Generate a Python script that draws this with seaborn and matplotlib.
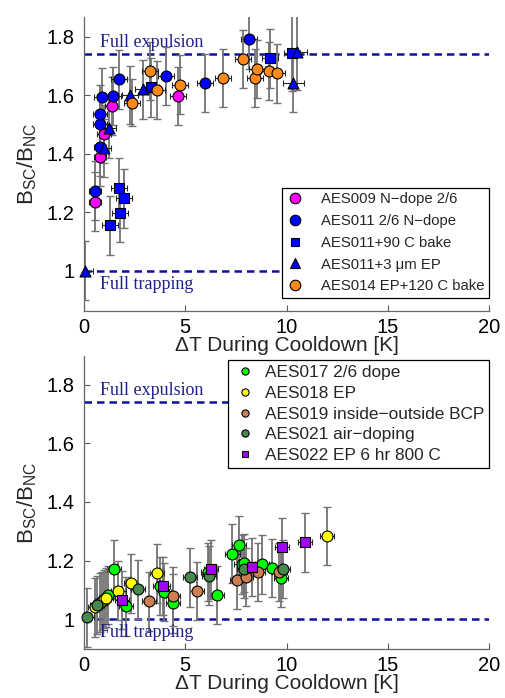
import numpy as np
import pandas as pd
import matplotlib
matplotlib.use("Agg")
import matplotlib.pyplot as plt
from matplotlib.lines import Line2D
import seaborn as sns

# ---------------- data: upper panel ----------------
aes009_x = [0.53, 0.79, 0.99, 1.37, 4.66]
aes009_y = [1.236, 1.390, 1.467, 1.563, 1.597]
aes009_xerr = [0.30, 0.30, 0.35, 0.35, 0.40]
aes009_yerr = [0.10, 0.10, 0.10, 0.10, 0.10]

aes011_x = [0.56, 0.79, 0.79, 0.79, 0.89, 1.45, 1.74, 4.06, 5.98, 8.16]
aes011_y = [1.274, 1.424, 1.502, 1.536, 1.593, 1.597, 1.654, 1.665, 1.641, 1.791]
aes011_xerr = [0.30, 0.30, 0.35, 0.35, 0.40, 0.40, 0.40, 0.40, 0.40, 0.40]
aes011_yerr = [0.10, 0.10, 0.10, 0.10, 0.10, 0.10, 0.10, 0.10, 0.10, 0.10]

aes011b_x = [1.27, 1.73, 1.78, 1.99, 3.31, 9.19, 10.26]
aes011b_y = [1.155, 1.284, 1.197, 1.248, 1.627, 1.726, 1.743]
aes011b_xerr = [0.40, 0.40, 0.40, 0.40, 0.40, 0.40, 0.40]
aes011b_yerr = [0.10, 0.10, 0.10, 0.10, 0.10, 0.10, 0.13]

aes011e_x = [0.05, 0.99, 1.25, 2.27, 2.93, 10.34, 10.50]
aes011e_y = [1.001, 1.419, 1.487, 1.601, 1.620, 1.643, 1.749]
aes011e_xerr = [0.40, 0.35, 0.35, 0.40, 0.40, 0.50, 0.50]
aes011e_yerr = [0.10, 0.10, 0.10, 0.10, 0.10, 0.10, 0.13]

aes014_x = [2.39, 3.27, 3.60, 4.74, 6.85, 7.87, 8.44, 8.56, 9.12, 9.55]
aes014_y = [1.574, 1.683, 1.617, 1.636, 1.658, 1.723, 1.658, 1.689, 1.683, 1.675]
aes014_xerr = [0.40, 0.40, 0.40, 0.40, 0.40, 0.40, 0.40, 0.40, 0.40, 0.40]
aes014_yerr = [0.08, 0.10, 0.10, 0.10, 0.10, 0.10, 0.10, 0.10, 0.10, 0.10]

# ---------------- data: lower panel ----------------
aes017_x = [1.19, 1.50, 2.07, 3.75, 3.95, 4.41, 6.14, 6.55, 7.33, 7.65, 7.78, 7.90, 8.79, 9.28, 9.74]
aes017_y = [1.082, 1.170, 1.044, 1.113, 1.093, 1.054, 1.161, 1.082, 1.223, 1.253, 1.187, 1.192, 1.187, 1.175, 1.142]
aes017_xerr = [0.35] * 15
aes017_yerr = [0.10] * 15

aes018_x = [0.54, 0.79, 0.90, 1.00, 1.09, 1.70, 2.31, 3.59, 12.02]
aes018_y = [1.040, 1.056, 1.062, 1.068, 1.073, 1.097, 1.122, 1.156, 1.284]
aes018_xerr = [0.35] * 9
aes018_yerr = [0.10] * 9

aes019_x = [3.23, 4.38, 5.60, 7.57, 8.00, 8.59, 9.65]
aes019_y = [1.061, 1.078, 1.096, 1.133, 1.144, 1.161, 1.161]
aes019_xerr = [0.35] * 7
aes019_yerr = [0.10] * 7

aes021_x = [0.13, 0.63, 2.65, 5.25, 6.17, 7.90, 9.81]
aes021_y = [1.006, 1.048, 1.102, 1.143, 1.148, 1.172, 1.171]
aes021_xerr = [0.35] * 7
aes021_yerr = [0.10] * 7

aes022_x = [1.89, 3.92, 6.27, 8.30, 9.76, 10.91]
aes022_y = [1.065, 1.113, 1.170, 1.178, 1.245, 1.262]
aes022_xerr = [0.35] * 6
aes022_yerr = [0.10] * 6

full_expulsion = 1.74
full_trapping = 1.0

x_ticks = [0, 5, 10, 15, 20]
y_ticks = [1.0, 1.2, 1.4, 1.6, 1.8]
y_ticklabels = ["1", "1.2", "1.4", "1.6", "1.8"]

top_series = [
    ("AES009 N\u2212dope 2/6", aes009_x, aes009_y, aes009_xerr, aes009_yerr, "#FF00FF", "o"),
    ("AES011 2/6 N\u2212dope", aes011_x, aes011_y, aes011_xerr, aes011_yerr, "#0000FF", "o"),
    ("AES011+90 C bake", aes011b_x, aes011b_y, aes011b_xerr, aes011b_yerr, "#0000FF", "s"),
    ("AES011+3 \u03bcm EP", aes011e_x, aes011e_y, aes011e_xerr, aes011e_yerr, "#0000FF", "^"),
    ("AES014 EP+120 C bake", aes014_x, aes014_y, aes014_xerr, aes014_yerr, "#FF8A1C", "o"),
]
bottom_series = [
    ("AES017 2/6 dope", aes017_x, aes017_y, aes017_xerr, aes017_yerr, "#00FF00", "o"),
    ("AES018 EP", aes018_x, aes018_y, aes018_xerr, aes018_yerr, "#FFFF00", "o"),
    ("AES019 inside\u2212outside BCP", aes019_x, aes019_y, aes019_xerr, aes019_yerr, "#CC7F50", "o"),
    ("AES021 air\u2212doping", aes021_x, aes021_y, aes021_xerr, aes021_yerr, "#47884F", "o"),
    ("AES022 EP 6 hr 800 C", aes022_x, aes022_y, aes022_xerr, aes022_yerr, "#A400F4", "s"),
]

sns.set_style("ticks")
plt.rcParams["font.family"] = ["Liberation Sans", "DejaVu Sans"]
plt.rcParams["mathtext.fontset"] = "custom"
plt.rcParams["mathtext.rm"] = "Liberation Sans"
plt.rcParams["mathtext.it"] = "Liberation Sans"

fig = plt.figure(figsize=(5.06, 6.98), dpi=100)
W, H = 506.0, 698.0
ax_top = fig.add_axes([84 / W, 1 - 311 / H, 405 / W, 294 / H])
ax_bot = fig.add_axes([84 / W, 1 - 649 / H, 405 / W, 293 / H])

marker_area = {"o": 62, "s": 44, "^": 62}
line_col = "#1010A0"
note_col = "#20208A"


def draw_panel(ax, series, ylim):
    for label, xs, ys, xe, ye, col, mk in series:
        # vertical (y) uncertainty: grey bars with dark caps
        _, caps, _ = ax.errorbar(xs, ys, yerr=ye, fmt="none", ecolor="0.45",
                                 elinewidth=1.3, capsize=3, capthick=1.0, zorder=2)
        for c in caps:
            c.set_color("k")
        # horizontal (x) uncertainty
        ax.errorbar(xs, ys, xerr=xe, fmt="none", ecolor="0.15",
                    elinewidth=0.8, capsize=2, capthick=0.8, zorder=2)
        df = pd.DataFrame({"dT": xs, "ratio": ys})
        sns.scatterplot(data=df, x="dT", y="ratio", ax=ax, color=col, marker=mk,
                        s=marker_area[mk], edgecolor="k", linewidth=0.8,
                        zorder=3, legend=False, clip_on=False)

    ax.axhline(full_expulsion, color=line_col, lw=1.8, ls=(0, (3, 2)), zorder=1)
    ax.axhline(full_trapping, color=line_col, lw=1.8, ls=(0, (3, 2)), zorder=1)
    ax.text(0.79, full_expulsion + 0.012, "Full expulsion", family="Liberation Serif",
            fontsize=13, color=note_col, va="bottom", ha="left")
    ax.text(0.79, full_trapping - 0.018, "Full trapping", family="Liberation Serif",
            fontsize=13, color=note_col, va="top", ha="left")

    ax.set_xlim(0, 20)
    ax.set_ylim(*ylim)
    ax.set_xticks(x_ticks)
    ax.set_xticklabels([str(t) for t in x_ticks])
    ax.set_yticks(y_ticks)
    ax.set_yticklabels(y_ticklabels)
    ax.tick_params(direction="in", length=4, width=0.8, labelsize=14.5,
                   colors="0.35", labelcolor="k")
    ax.tick_params(axis="y", pad=7)
    ax.tick_params(axis="x", pad=5)
    for side in ("top", "right"):
        ax.spines[side].set_visible(False)
    for side in ("left", "bottom"):
        ax.spines[side].set_color("0.4")
        ax.spines[side].set_linewidth(0.9)
    ax.set_xlabel("\u0394T During Cooldown [K]", fontsize=15, labelpad=-1)
    ax.set_ylabel(r"$\mathregular{B_{SC}/B_{NC}}$", fontsize=16)
    ax.yaxis.set_label_coords(-0.11, 0.5)

    return [Line2D([], [], ls="none", marker=mk, color=col, markeredgecolor="k",
                   markeredgewidth=0.8, label=label)
            for label, _, _, _, _, col, mk in series]


def add_legend(ax, handles, msize, **kw):
    for h in handles:
        h.set_markersize(msize if h.get_marker() != "s" else msize * 0.85)
    leg = ax.legend(handles=handles, frameon=True, fancybox=False, framealpha=1,
                    edgecolor="k", borderaxespad=0, **kw)
    leg.get_frame().set_linewidth(0.9)


h_top = draw_panel(ax_top, top_series, (0.863, 1.867))
add_legend(ax_top, h_top, 7.6, fontsize=10.7, loc="lower right",
           bbox_to_anchor=(1.0, 0.045), borderpad=0.3, labelspacing=0.52,
           handlelength=1.16, handletextpad=1.18)

h_bot = draw_panel(ax_bot, bottom_series, (0.898, 1.898))
add_legend(ax_bot, h_bot, 5.2, fontsize=12.4, loc="upper right",
           bbox_to_anchor=(1.0, 0.985), borderpad=0.29, labelspacing=0.32,
           handlelength=1.4, handletextpad=0.46)

fig.savefig("out.png", dpi=100)
